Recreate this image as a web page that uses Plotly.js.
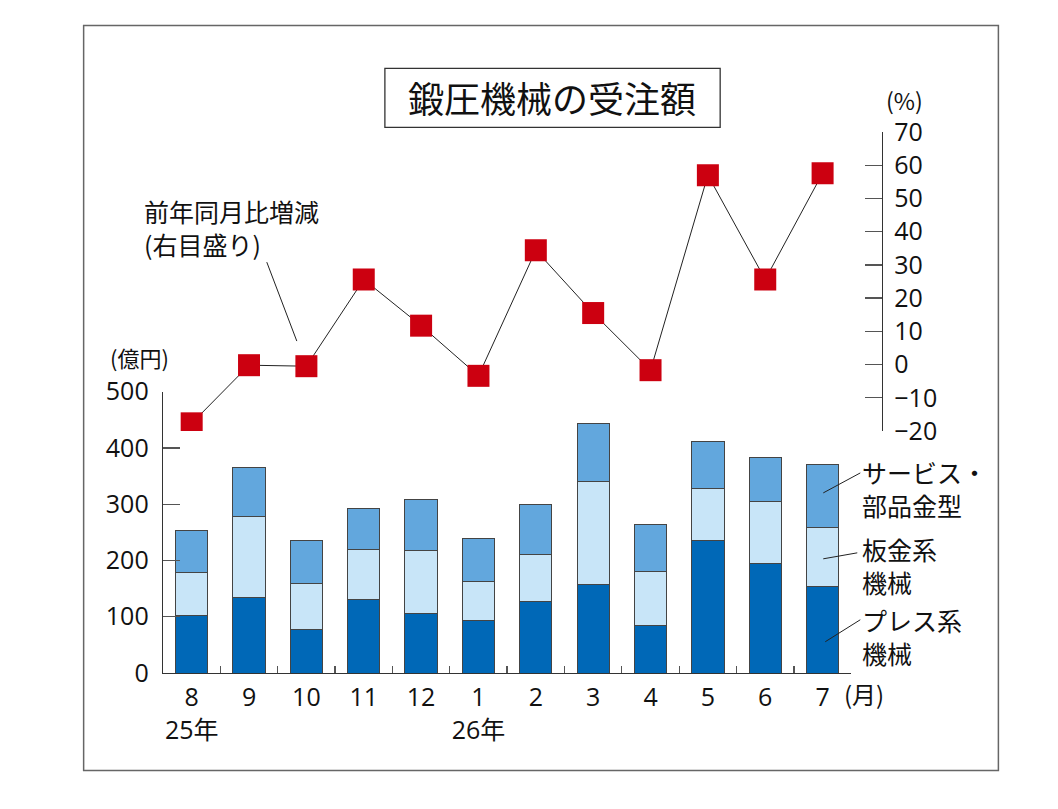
<!DOCTYPE html>
<html>
<head>
<meta charset="utf-8">
<script src="https://cdn.plot.ly/plotly-3.0.1.min.js"></script>
<style>
  body { margin: 0; background: #fff; }
  #chart { width: 1058px; height: 809px; }
</style>
</head>
<body>
<div id="chart"></div>
<script>
// months (Aug 2025 - Jul 2026)
const months = ['8<br>25年', '9', '10', '11', '12', '1<br>26年', '2', '3', '4', '5', '6', '7'];
// orders, 100 million yen
const press = [103, 135, 78, 131, 105, 94, 127, 157, 85, 235, 195, 154];
const sheetMetal = [76, 143, 81, 89, 113, 69, 84, 184, 96, 93, 110, 105];
const serviceParts = [75, 88, 77, 73, 90, 76, 88, 103, 83, 84, 78, 112];
// year-on-year change, %
const yoyChange = [-17.7, -0.2, -0.5, 25.6, 11.7, -3.4, 34.4, 15.5, -1.7, 57.0, 25.6, 57.6];

const W = 1058, H = 809;
const L = 163.3, R = 881.7, T = 131.7, B = 673.3;
// pixel -> paper coords
const px = x => (x - L) / (R - L);
const py = y => (B - y) / (B - T);

const jp = '"Noto Sans CJK JP", sans-serif';
const num = '"Open Sans", "Noto Sans CJK JP", sans-serif';
const edge = { color: '#444', width: 1 };

const traces = [
    { type: 'bar', name: 'プレス系機械', x: months, y: press, marker: { color: '#0068b7', line: edge } },
    { type: 'bar', name: '板金系機械', x: months, y: sheetMetal, marker: { color: '#c8e5f8', line: edge } },
    { type: 'bar', name: 'サービス・部品金型', x: months, y: serviceParts, marker: { color: '#62a7dd', line: edge } },
    {
        type: 'scatter', mode: 'lines+markers', name: '前年同月比増減', x: months, y: yoyChange, yaxis: 'y2',
        line: { color: '#222', width: 1 },
        marker: { symbol: 'square', size: 22, color: '#cc0010' }
    }
];

function label(text, x, y, size, anchor) {
    return {
        text: text, xref: 'paper', yref: 'paper', x: px(x), y: py(y),
        xanchor: anchor || 'left', yanchor: 'middle', showarrow: false, align: 'left',
        font: { family: jp, size: size, color: '#111' }
    };
}

function leader(x0, y0, x1, y1) {
    return { type: 'line', xref: 'paper', yref: 'paper', x0: px(x0), y0: py(y0), x1: px(x1), y1: py(y1),
        line: { color: '#222', width: 1 } };
}

const layout = {
    width: W, height: H,
    margin: { l: L, r: W - R, t: T, b: H - B, pad: 0 },
    paper_bgcolor: '#fff', plot_bgcolor: 'rgba(0,0,0,0)',
    showlegend: false,
    barmode: 'stack',
    bargap: 0.436,
    font: { family: num, color: '#111' },
    xaxis: {
        domain: [0, (851 - L) / (R - L)],
        type: 'category', range: [-0.5, 11.5], tickson: 'boundaries',
        showline: true, linecolor: '#333', linewidth: 1.3,
        ticks: 'inside', ticklen: 7, tickcolor: '#555', tickwidth: 1.3,
        showgrid: false, zeroline: false,
        tickangle: 0,
        tickfont: { family: num, size: 25, color: '#111' },
        ticklabelstandoff: 2
    },
    yaxis: {
        domain: [0, py(391.7)],
        range: [0, 500], dtick: 100,
        showline: true, linecolor: '#333', linewidth: 1.3,
        ticks: 'inside', ticklen: 17, tickcolor: '#555', tickwidth: 1.3,
        showgrid: false, zeroline: false,
        tickfont: { family: num, size: 25, color: '#111' },
        ticklabelstandoff: 8
    },
    yaxis2: {
        domain: [py(431), 1],
        range: [-20, 70], dtick: 10,
        side: 'right', anchor: 'free', position: 1,
        showline: true, linecolor: '#333', linewidth: 1.3,
        ticks: 'inside', ticklen: 17, tickcolor: '#555', tickwidth: 1.3,
        showgrid: false, zeroline: false,
        tickfont: { family: num, size: 25, color: '#111' },
        ticklabelstandoff: 6
    },
    shapes: [
        { type: 'rect', xref: 'paper', yref: 'paper', x0: px(84), y0: py(25), x1: px(998), y1: py(771),
            line: { color: '#666', width: 1.5 }, layer: 'below' },
        { type: 'rect', xref: 'paper', yref: 'paper', x0: px(385), y0: py(68), x1: px(720), y1: py(127),
            line: { color: '#333', width: 1.3 } },
        leader(823, 493, 860, 473),
        leader(823, 559, 857, 553),
        leader(825, 642, 860, 620),
        leader(267, 262, 297, 341)
    ],
    annotations: [
        label('鍛圧機械の受注額', 552, 97, 36, 'center'),
        label('前年同月比増減<br>(右目盛り)', 142, 227, 25),
        label('(億円)', 108, 357, 22),
        label('(%)', 884, 100, 23),
        label('(月)', 842, 694, 24),
        label('サービス・<br>部品金型', 860, 489, 25),
        label('板金系<br>機械', 860, 566, 25),
        label('プレス系<br>機械', 860, 637, 25)
    ]
};

Plotly.newPlot('chart', traces, layout, { displayModeBar: false, staticPlot: true });
</script>
</body>
</html>
